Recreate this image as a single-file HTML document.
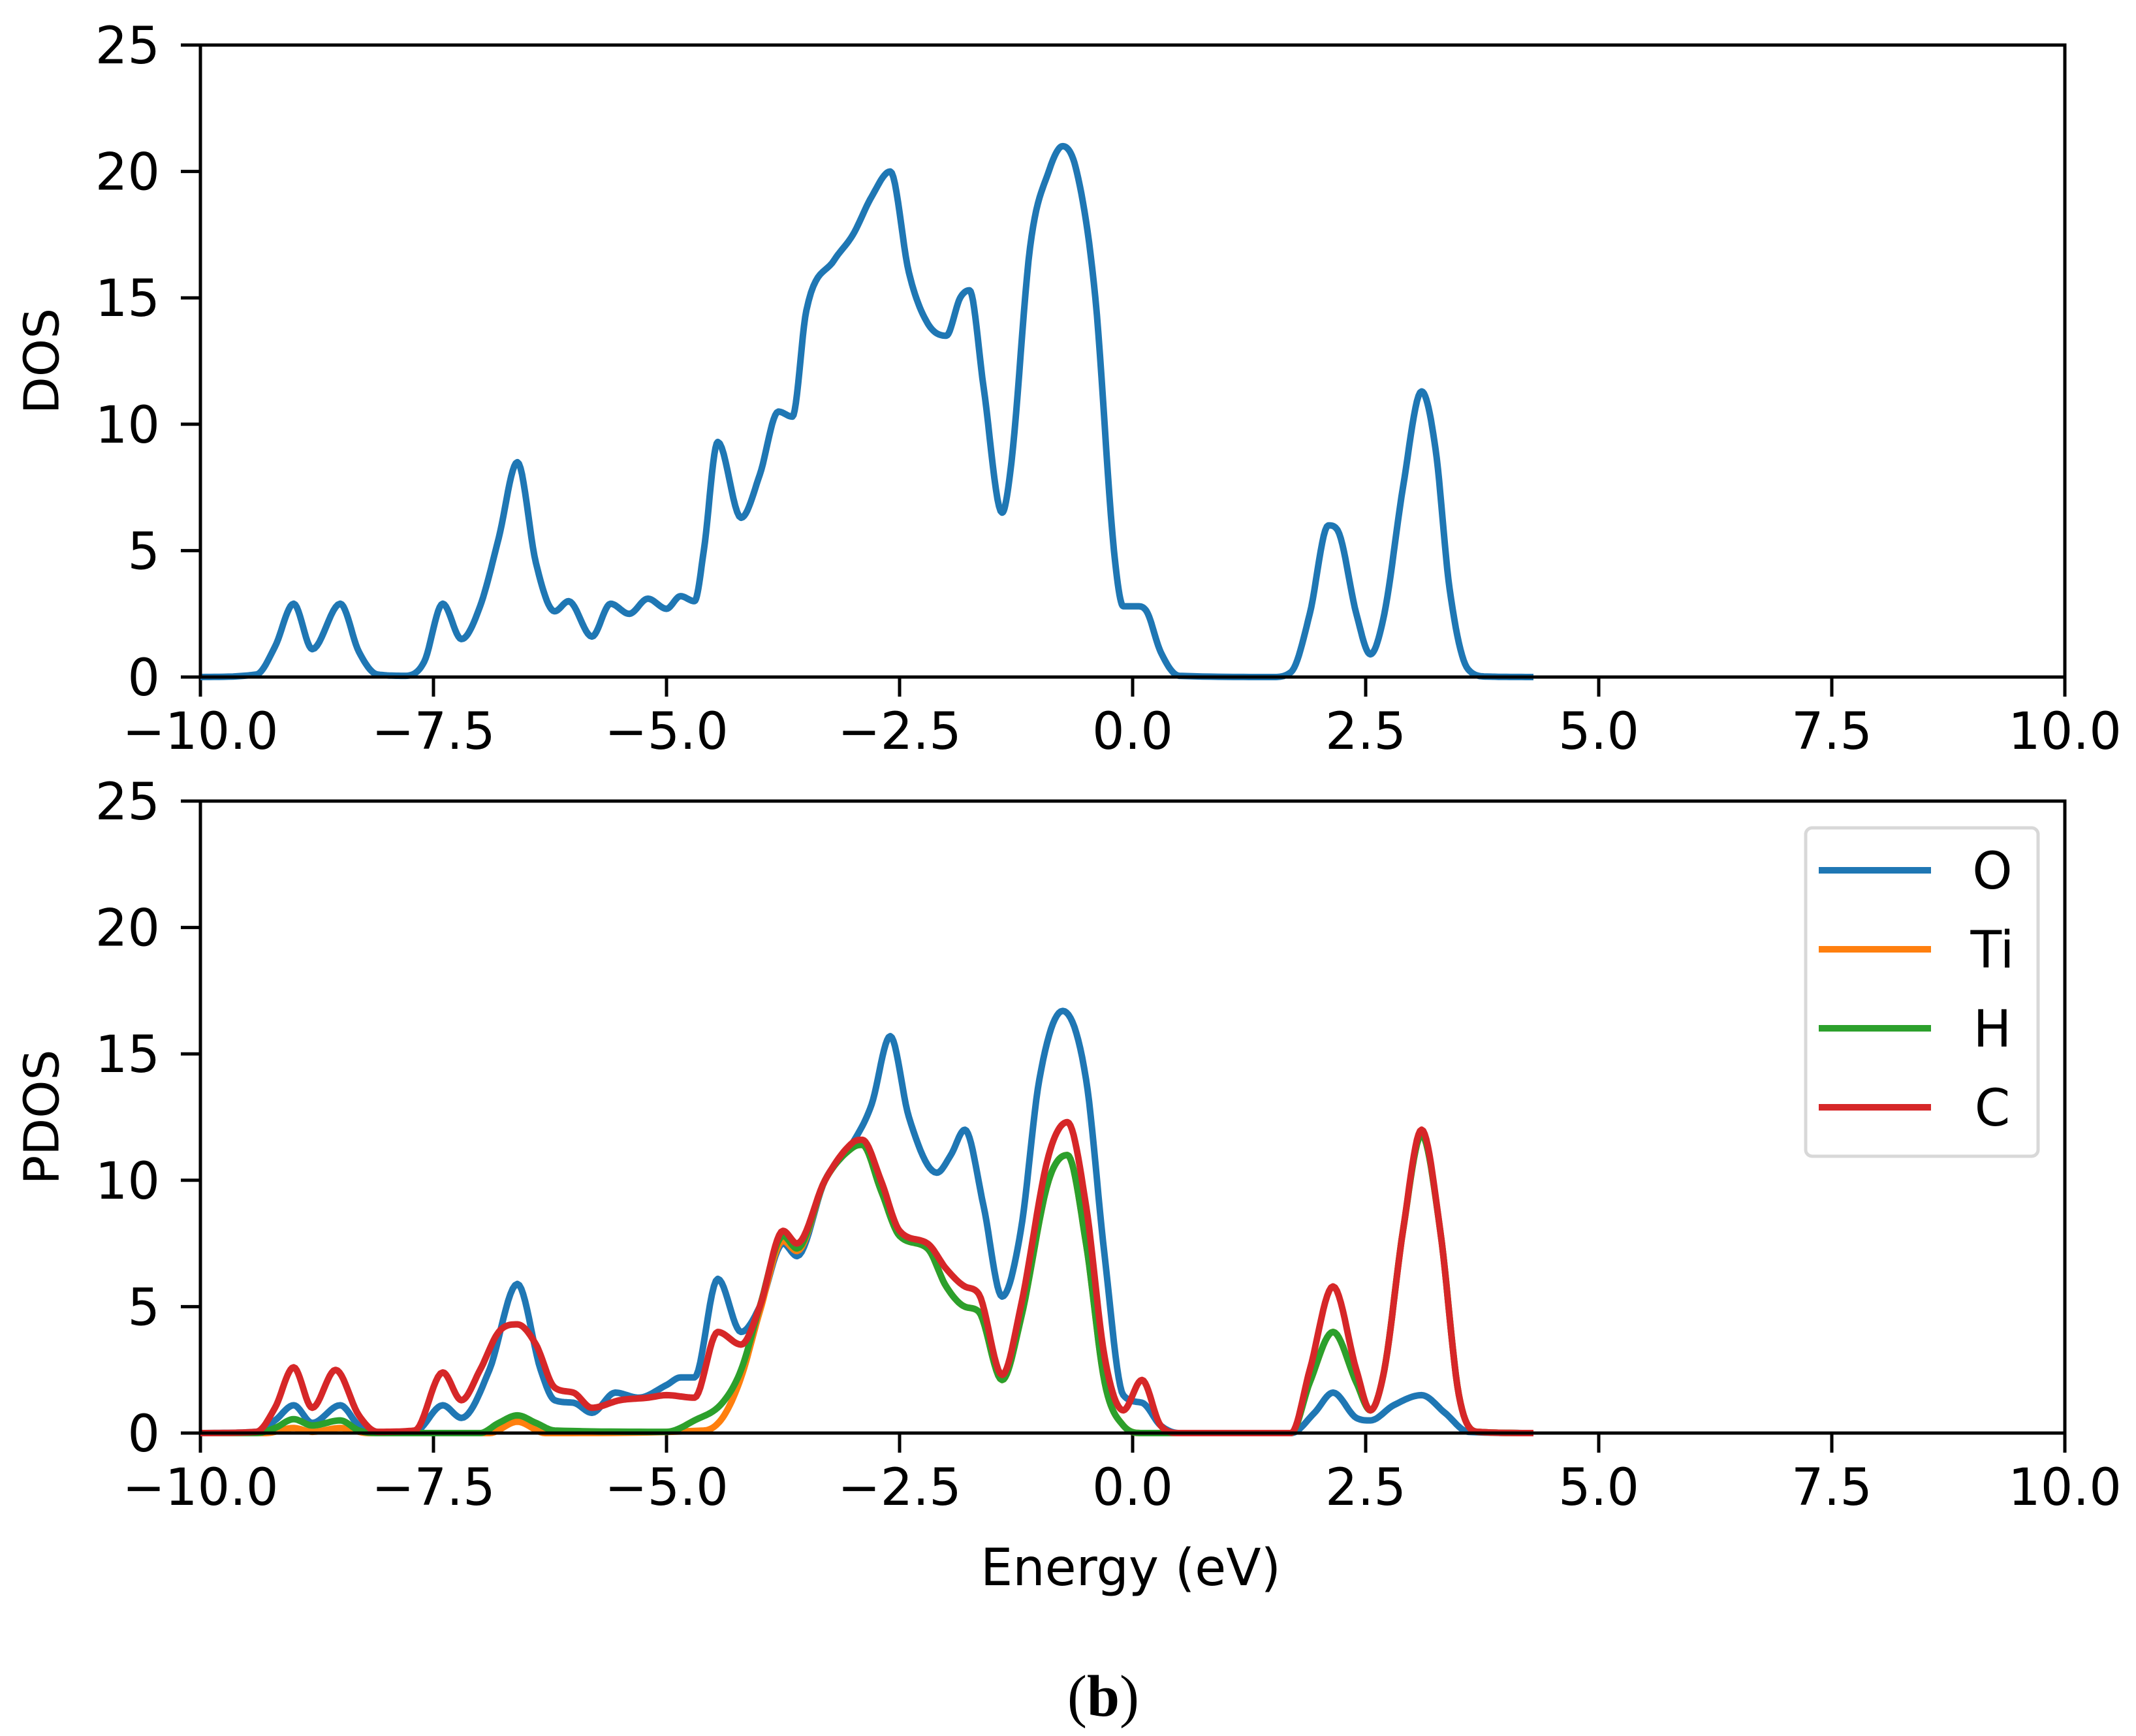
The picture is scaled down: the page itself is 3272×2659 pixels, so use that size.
<!DOCTYPE html>
<html><head><meta charset="utf-8"><style>
html,body{margin:0;padding:0;background:#fff;}
svg{display:block;}
text{font-family:"DejaVu Sans","Liberation Sans",sans-serif;fill:#000;}
</style></head><body>
<svg id="chart" width="3272" height="2659" viewBox="0 0 3272 2659" xmlns="http://www.w3.org/2000/svg">
<g id="top"></g>
<g id="bot"></g>
<text x="69" y="553" font-size="74" text-anchor="middle" dominant-baseline="middle" transform="rotate(-90 69 553)">DOS</text>
<text x="69" y="1711" font-size="74" text-anchor="middle" dominant-baseline="middle" transform="rotate(-90 69 1711)">PDOS</text>
<text x="1732" y="2428" font-size="78" text-anchor="middle">Energy (eV)</text>
<text x="1690" y="2628" font-size="90" text-anchor="middle" style="font-family:'Liberation Serif',serif">(<tspan font-weight="bold">b</tspan>)</text>
<g id="legend"></g>
</svg>
<script>
const xTicks=[-10,-7.5,-5,-2.5,0,2.5,5,7.5,10];
const xTickLabels=["−10.0","−7.5","−5.0","−2.5","0.0","2.5","5.0","7.5","10.0"];
const yTicks=[0,5,10,15,20,25];
const yTickLabels=["0","5","10","15","20","25"];
const dosE=[-10,-9.4,-9.2,-9.0,-8.8,-8.5,-8.3,-8.1,-7.8,-7.6,-7.4,-7.2,-7.0,-6.8,-6.6,-6.4,-6.2,-6.05,-5.8,-5.6,-5.4,-5.2,-5.0,-4.85,-4.7,-4.6,-4.45,-4.2,-4.0,-3.8,-3.65,-3.5,-3.2,-3.0,-2.8,-2.6,-2.4,-2.2,-2.0,-1.85,-1.75,-1.6,-1.4,-1.3,-1.1,-0.9,-0.75,-0.6,-0.4,-0.2,-0.1,0.05,0.15,0.3,0.5,1.5,1.7,1.9,2.1,2.2,2.4,2.55,2.7,2.9,3.1,3.25,3.4,3.6,3.8,4.3];
const dosV=[0,0.1,1.2,2.9,1.1,2.9,1.0,0.1,0.05,0.6,2.9,1.5,2.8,5.5,8.5,4.5,2.6,3.0,1.6,2.9,2.5,3.1,2.7,3.2,3.0,5,9.3,6.3,8.0,10.5,10.3,14.5,16.5,17.5,19.0,20.0,16.0,14.0,13.5,15.0,15.3,11.5,6.5,8.5,17,20,21.0,20,15,5,2.8,2.8,2.6,1,0.05,0,0.2,2.5,6.0,5.8,2.5,0.9,2.5,7.5,11.3,9,3.5,0.3,0.02,0];
const oE=[-10,-9.4,-9.2,-9.0,-8.8,-8.5,-8.3,-8.1,-7.7,-7.4,-7.2,-6.9,-6.6,-6.35,-6.2,-6.0,-5.8,-5.55,-5.3,-5.0,-4.85,-4.7,-4.45,-4.2,-4.0,-3.75,-3.6,-3.3,-3.0,-2.8,-2.6,-2.4,-2.1,-1.95,-1.8,-1.6,-1.4,-1.2,-1.0,-0.75,-0.5,-0.3,-0.1,0.1,0.3,0.5,1.7,1.95,2.15,2.4,2.55,2.8,3.1,3.35,3.6,4.3];
const oV=[0,0.05,0.5,1.1,0.4,1.1,0.3,0.02,0.05,1.1,0.6,2.5,5.9,2.5,1.3,1.2,0.8,1.6,1.4,1.9,2.2,2.2,6.1,4.0,5,7.5,7.0,10,11.5,13,15.7,12.5,10.3,11,12.0,9,5.4,8,14,16.7,14,7,1.5,1.2,0.3,0,0,0.8,1.6,0.6,0.5,1.1,1.5,0.8,0.05,0];
const tiE=[-10,-9.3,-9.0,-8.8,-8.5,-8.2,-6.9,-6.6,-6.3,-4.6,-4.4,-4.2,-4.0,-3.75,-3.6,-3.3,-3.0,-2.9,-2.7,-2.5,-2.2,-2.0,-1.8,-1.65,-1.4,-1.2,-0.9,-0.7,-0.5,-0.3,-0.1,0.1,1.7,1.9,2.15,2.4,2.55,2.7,2.9,3.1,3.3,3.5,3.7,4.3];
const tiV=[0,0,0.2,0.05,0.2,0,0,0.45,0,0.1,0.6,2.2,4.8,7.6,7.2,10,11.3,11.4,9.6,7.8,7.3,5.8,5.0,4.8,2.1,4.5,10,11.0,7.5,2,0.3,0,0,2,4.0,2,0.9,2.5,8,11.8,8,1.5,0.05,0];
const hE=[-10,-9.4,-9.2,-9.0,-8.8,-8.5,-8.3,-8.1,-7.0,-6.8,-6.6,-6.4,-6.2,-5.0,-4.7,-4.4,-4.2,-4.0,-3.75,-3.6,-3.3,-3.0,-2.9,-2.7,-2.5,-2.2,-2.0,-1.8,-1.65,-1.4,-1.2,-0.9,-0.7,-0.5,-0.3,-0.1,0.1,1.7,1.9,2.15,2.4,2.55,2.7,2.9,3.1,3.3,3.5,3.7,4.3];
const hV=[0,0,0.2,0.55,0.3,0.5,0.1,0,0,0.4,0.7,0.4,0.1,0.05,0.5,1.2,2.5,5.0,7.8,7.3,10,11.3,11.4,9.6,7.8,7.3,5.8,5.0,4.8,2.1,4.5,10,11.0,7.5,2,0.3,0,0,2,4.0,2,0.9,2.5,8,11.8,8,1.5,0.05,0];
const cE=[-10,-9.4,-9.2,-9.0,-8.8,-8.55,-8.3,-8.1,-7.7,-7.4,-7.2,-7.0,-6.8,-6.6,-6.4,-6.2,-6.0,-5.8,-5.5,-5.2,-5.0,-4.7,-4.45,-4.2,-4.0,-3.75,-3.6,-3.3,-3.0,-2.9,-2.7,-2.5,-2.2,-2.0,-1.8,-1.65,-1.4,-1.2,-0.9,-0.7,-0.5,-0.3,-0.1,0.1,0.3,0.5,1.7,1.9,2.15,2.4,2.55,2.7,2.9,3.1,3.3,3.5,3.7,4.3];
const cV=[0,0.05,1.0,2.6,1.0,2.5,0.7,0.05,0.1,2.4,1.3,2.5,4.0,4.3,3.5,1.8,1.6,1.0,1.3,1.4,1.5,1.4,4.0,3.5,5.0,8.0,7.5,10.0,11.5,11.6,10,8,7.5,6.5,5.8,5.5,2.3,5,11,12.3,9,3,0.9,2.1,0.3,0,0,2.5,5.8,2.5,0.9,2.5,8,12.0,8,1.5,0.05,0];
const seriesNames=["O","Ti","H","C"];
const seriesColors=["#1f77b4","#ff7f0e","#2ca02c","#d62728"];

const NS="http://www.w3.org/2000/svg";
const X0=307,X1=3163;
function xs(e){return X0+(e+10)/20*(X1-X0);}
function ysFor(bottom){return v=>bottom-v/25*968;}
function mk(tag,attrs,parent){const el=document.createElementNS(NS,tag);for(const k in attrs)el.setAttribute(k,attrs[k]);parent.appendChild(el);return el;}
function monotone(E,V){
  const n=E.length,d=[],m=[];
  for(let i=0;i<n-1;i++)d.push((V[i+1]-V[i])/(E[i+1]-E[i]));
  m[0]=d[0];m[n-1]=d[n-2];
  for(let i=1;i<n-1;i++){m[i]=(d[i-1]*d[i]<=0)?0:(d[i-1]+d[i])/2;}
  for(let i=0;i<n-1;i++){if(d[i]===0){m[i]=0;m[i+1]=0;continue;}const a=m[i]/d[i],b=m[i+1]/d[i],s=a*a+b*b;if(s>9){const t=3/Math.sqrt(s);m[i]=t*a*d[i];m[i+1]=t*b*d[i];}}
  const pts=[];
  for(let i=0;i<n-1;i++){const h=E[i+1]-E[i];for(let k=0;k<12;k++){const t=k/12,t2=t*t,t3=t2*t;
    const v=(2*t3-3*t2+1)*V[i]+(t3-2*t2+t)*h*m[i]+(-2*t3+3*t2)*V[i+1]+(t3-t2)*h*m[i+1];pts.push([E[i]+t*h,v]);}}
  pts.push([E[n-1],V[n-1]]);return pts;
}
function drawCurve(g,E,V,ys,color,name){
  const p=monotone(E,V).map(q=>xs(q[0]).toFixed(1)+","+ys(q[1]).toFixed(1)).join(" ");
  const el=mk("polyline",{points:p,fill:"none",stroke:color,"stroke-width":10,"stroke-linejoin":"round"},g);
  
  
}
function axes(g,top,bottom,prefix){
  const ys=ysFor(bottom);
  xTicks.forEach((t,i)=>{
    const tk=mk("line",{x1:xs(t),x2:xs(t),y1:bottom,y2:bottom+30,stroke:"#000","stroke-width":5},g);
    
    
    const tl=mk("text",{x:xs(t),y:bottom+110,"font-size":78,"text-anchor":"middle"},g);tl.textContent=xTickLabels[i];
    
    
  });
  yTicks.forEach((t,i)=>{
    const tk=mk("line",{x1:X0-30,x2:X0,y1:ys(t),y2:ys(t),stroke:"#000","stroke-width":5},g);
    
    
    const tl=mk("text",{x:245,y:ys(t)+28,"font-size":78,"text-anchor":"end"},g);tl.textContent=yTickLabels[i];
    
    
  });
  return ys;
}
function frame(g,top,bottom,prefix){
  const r=mk("rect",{x:X0,y:top,width:X1-X0,height:bottom-top,fill:"none",stroke:"#000","stroke-width":5},g);
  
  
}
const gt=document.getElementById("top"),gb=document.getElementById("bot");
const yt=axes(gt,69,1037,"dos");
drawCurve(gt,dosE,dosV,yt,seriesColors[0],"dos-line");
frame(gt,69,1037,"dos");
const yb=axes(gb,1227,2195,"pdos");
const allE=[oE,tiE,hE,cE],allV=[oV,tiV,hV,cV];
for(let i=0;i<4;i++)drawCurve(gb,allE[i],allV[i],yb,seriesColors[i],"pdos-line-"+seriesNames[i].toLowerCase());
frame(gb,1227,2195,"pdos");
const lg=document.getElementById("legend");
const box=mk("rect",{x:2766,y:1268,width:356,height:503,rx:10,fill:"#fff","fill-opacity":0.8,stroke:"#d8d8d8","stroke-width":5},lg);


seriesNames.forEach((n,i)=>{
  const y=1333+i*121;
  const ln=mk("line",{x1:2786,x2:2958,y1:y,y2:y,stroke:seriesColors[i],"stroke-width":10},lg);
  
  
  const tx=mk("text",{x:3052,y:y+28,"font-size":78,"text-anchor":"middle"},lg);tx.textContent=n;
  
  
});
</script>
</body></html>
